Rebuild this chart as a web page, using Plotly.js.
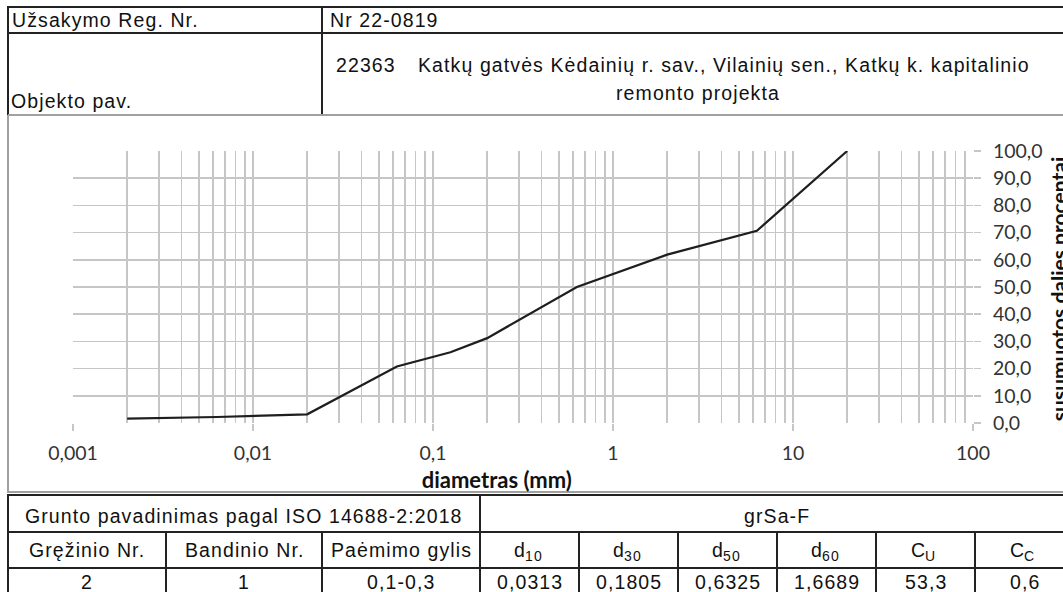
<!DOCTYPE html>
<html>
<head>
<meta charset="utf-8">
<script src="https://cdn.plot.ly/plotly-3.0.1.min.js"></script>
<style>
  html, body { margin: 0; padding: 0; background: #fff; overflow: hidden; }
  #chart { width: 1063px; height: 592px; }
  .annotation-text { letter-spacing: 1.1px; }
  .annotation[data-index="0"] .annotation-text,
  .annotation[data-index="1"] .annotation-text { letter-spacing: 0px; }
</style>
</head>
<body>
<div id="chart"></div>
<script>
// ---- chart data ----
const diameters = [0.002, 0.0063, 0.02, 0.063, 0.125, 0.2, 0.63, 2, 6.3, 20];
const passingPercent = [1.6, 2.2, 3.2, 20.8, 26.0, 31.2, 50.0, 61.9, 70.7, 100.0];

const xTickVals = [0.001, 0.01, 0.1, 1, 10, 100];
const xTickText = ["0,001", "0,01", "0,1", "1", "10", "100"];
const xMinorGrid = [];
[0.001, 0.01, 0.1, 1, 10].forEach(d => { for (let k = 2; k <= 9; k++) xMinorGrid.push(+(d * k).toPrecision(3)); });
const yTickVals = [0, 10, 20, 30, 40, 50, 60, 70, 80, 90, 100];

const xTitle = "diametras (mm)";
const yTitle = "susumuotos dalies procentai";

// ---- header & table texts ----
const orderLabel = "Užsakymo Reg. Nr.";
const orderValue = "Nr 22-0819";
const objectLabel = "Objekto pav.";
const objectCode = "22363";
const objectLine1 = "Katkų gatvės Kėdainių r. sav., Vilainių sen., Katkų k. kapitalinio";
const objectLine2 = "remonto projekta";
const soilLabel = "Grunto pavadinimas pagal ISO 14688-2:2018";
const soilName = "grSa-F";
const headerMain = ["Gręžinio Nr.", "Bandinio Nr.", "Paėmimo gylis", "d", "d", "d", "d", "C", "C"];
const headerSub = ["", "", "", "10", "30", "50", "60", "U", "C"];
const tableValues = ["2", "1", "0,1-0,3", "0,0313", "0,1805", "0,6325", "1,6689", "53,3", "0,6"];

// ---- layout geometry (pixels) ----
const PL = 73, PR = 973, PT = 151, PB = 423;
const W = 1063, H = 592;
const X = px => (px - PL) / (PR - PL);
const Y = py => (PB - py) / (PB - PT);

const shapes = [];
function seg(x0, y0, x1, y1, color, width) {
  shapes.push({type: 'line', xref: 'paper', yref: 'paper',
    x0: X(x0), y0: Y(y0), x1: X(x1), y1: Y(y1),
    line: {color: color, width: width}, layer: 'above'});
}
const BLK = '#222', GRY = '#a0a0a0';
// header box
seg(8, 7, 1075, 7, BLK, 2);
seg(8, 33, 1075, 33, BLK, 2);
seg(8, 6, 8, 116, BLK, 2);
seg(322, 6, 322, 116, BLK, 2);
seg(8, 115, 1075, 115, GRY, 2);
// chart frame
seg(8, 115, 8, 493, GRY, 2);
seg(8, 492, 1075, 492, GRY, 2);
// table
seg(8, 495, 1075, 495, BLK, 2);
seg(8, 532, 1075, 532, BLK, 2);
seg(8, 568, 1075, 568, BLK, 2);
seg(8, 494, 8, 600, BLK, 2);
seg(480, 494, 480, 600, BLK, 2);
const colEdges = [8, 166, 322, 480, 579, 678, 777, 876, 975, 1074];
[166, 322, 579, 678, 777, 876, 975].forEach(x => seg(x, 531, x, 600, BLK, 2));

const annotations = [];
const FS = 19.5;
const TXT = {family: 'Liberation Sans, Arial, sans-serif', size: FS, color: '#111'};
function ann(text, px, py, xanchor, font, extra) {
  annotations.push(Object.assign({text: text, xref: 'paper', yref: 'paper',
    x: X(px), y: Y(py), xanchor: xanchor, yanchor: 'middle', showarrow: false,
    font: font || TXT}, extra || {}));
}
// axis titles (indices 0 and 1)
ann('<b>' + xTitle + '</b>', 497, 479, 'center', {family: 'Lato, sans-serif', size: 22, color: '#111'});
ann('<b>' + yTitle + '</b>', 1058, 289, 'center', {family: 'Lato, sans-serif', size: 21, color: '#111'}, {textangle: -90});

ann(orderLabel, 10, 20, 'left');
ann(orderValue, 328, 20, 'left');
ann(objectLabel, 9, 101, 'left');
ann(objectCode, 334, 65, 'left');
ann(objectLine1, 416, 65, 'left');
ann(objectLine2, 698, 93, 'center');
ann(soilLabel, 244, 516, 'center');
ann(soilName, 777, 516, 'center');

const SUBFS = 14;
const approxW = s => s.length ? (/[CU]/.test(s) ? 0.72 * s.length : 0.56 * s.length) : 0;
for (let i = 0; i < headerMain.length; i++) {
  const cx = (colEdges[i] + colEdges[i + 1]) / 2;
  if (headerSub[i]) {
    const mw = approxW(headerMain[i]) * FS;
    const sw = approxW(headerSub[i]) * SUBFS;
    const b = cx - (mw + sw) / 2 + mw;
    ann(headerMain[i], b + 1, 550, 'right');
    ann(headerSub[i], b - 4, 556, 'left', {family: TXT.family, size: SUBFS, color: '#111'});
  } else {
    ann(headerMain[i], cx, 550, 'center');
  }
  ann(tableValues[i], cx, 582, 'center');
}

const trace = {
  x: diameters, y: passingPercent, type: 'scatter', mode: 'lines',
  line: {color: '#1e1e1e', width: 2.2}, hoverinfo: 'skip'
};

const gridC = '#c6c6c6';
const tickFont = {family: 'Lato, sans-serif', size: 19.5, color: '#333'};
const layout = {
  width: W, height: H,
  margin: {l: PL, r: W - PR, t: PT, b: H - PB, pad: 0},
  paper_bgcolor: '#fff', plot_bgcolor: '#fff',
  showlegend: false,
  separators: ', ',
  xaxis: {
    type: 'log', range: [-3, 2], fixedrange: true,
    tickmode: 'array', tickvals: xTickVals, ticktext: xTickText,
    ticks: 'outside', ticklen: 7, tickwidth: 1.5, tickcolor: gridC,
    showgrid: true, gridcolor: gridC, gridwidth: 1.5,
    minor: {tickmode: 'array', tickvals: xMinorGrid, showgrid: true, gridcolor: gridC, gridwidth: 1.5, ticks: ''},
    showline: false, zeroline: false,
    tickfont: tickFont, ticklabelstandoff: 6
  },
  yaxis: {
    range: [0, 100], side: 'right', fixedrange: true,
    tickmode: 'array', tickvals: yTickVals, tickformat: '.1f',
    ticks: 'outside', ticklen: 7, tickwidth: 1.5, tickcolor: gridC,
    showgrid: true, gridcolor: gridC, gridwidth: 1.5,
    showline: false, zeroline: false,
    tickfont: tickFont, ticklabelstandoff: 8
  },
  shapes: shapes,
  annotations: annotations
};

Plotly.newPlot('chart', [trace], layout, {displayModeBar: false, staticPlot: true});
</script>
</body>
</html>
